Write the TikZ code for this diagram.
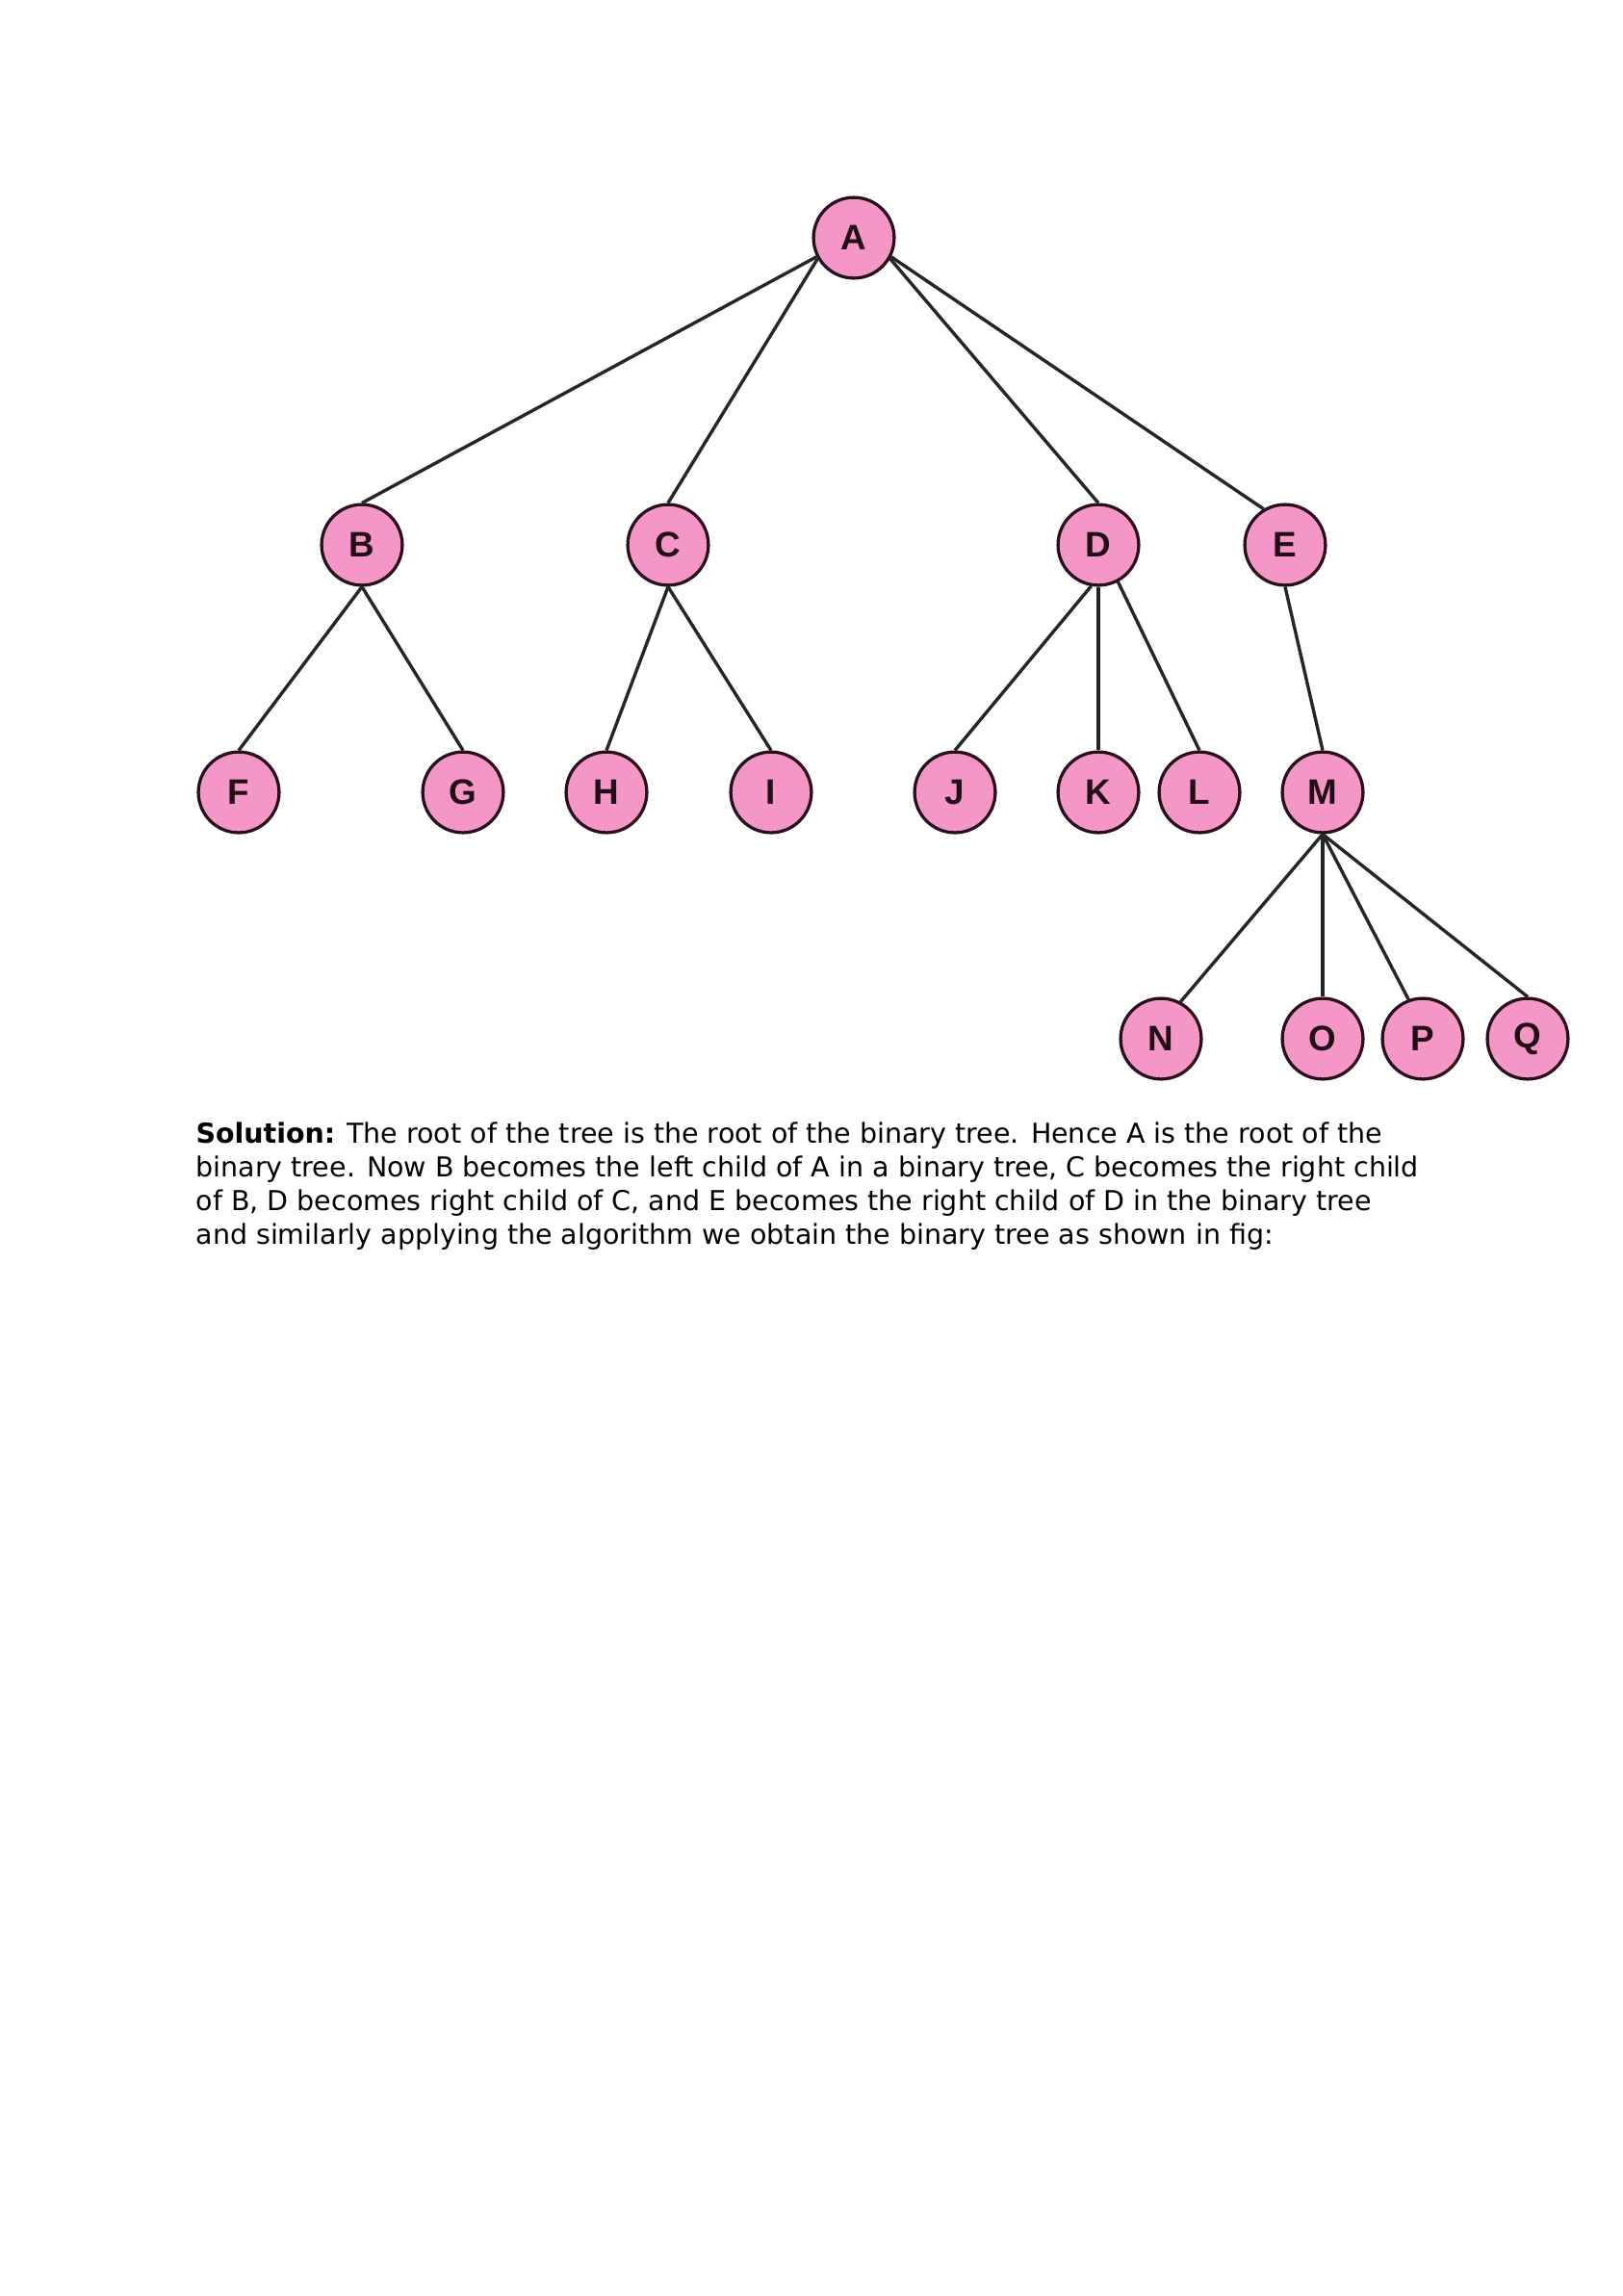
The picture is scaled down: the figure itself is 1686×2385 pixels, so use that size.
\documentclass[tikz,border=0pt]{standalone}
\usepackage{fontspec}
\setmainfont{DejaVu Sans}
\newfontfamily\labelfont{Liberation Sans}
\definecolor{nodepink}{RGB}{245,150,200}
\definecolor{nodeedge}{RGB}{40,15,25}
\begin{document}
\begin{tikzpicture}[x=0.3531pt,y=-0.3531pt,
  tn/.style={circle,draw=nodeedge,fill=nodepink,line width=1.15pt,minimum size=29.6pt,inner sep=0pt,
    font=\labelfont\bfseries\fontsize{13}{14}\selectfont,text=nodeedge!90!black},
  edge/.style={line width=1.2pt,black!85},
  txt/.style={anchor=base west,inner sep=0pt,font=\fontsize{10.06}{12}\selectfont}]
\useasboundingbox (0,0) rectangle (1686,2385);
\fill[white] (0,0) rectangle (1686,2385);
% nodes
\node[tn] (A) at (887,247) {A};
\node[tn] (B) at (376,566) {B};
\node[tn] (C) at (694,566) {C};
\node[tn] (D) at (1141,566) {D};
\node[tn] (E) at (1335,566) {E};
\node[tn] (F) at (248,823) {F};
\node[tn] (G) at (481,823) {G};
\node[tn] (H) at (630,823) {H};
\node[tn] (I) at (801,823) {I};
\node[tn] (J) at (992,823) {J};
\node[tn] (K) at (1141,823) {K};
\node[tn] (L) at (1246,823) {L};
\node[tn] (M) at (1374,823) {M};
\node[tn] (N) at (1206,1079) {N};
\node[tn] (O) at (1374,1079) {O};
\node[tn] (P) at (1478,1079) {P};
\node[tn] (Q) at (1587,1079) {Q};
% edges
\draw[edge] (A.-153) -- (B.north);
\draw[edge] (A.-150) -- (C.north);
\draw[edge] (A.-30) -- (D.north);
\draw[edge] (A.-27) -- (E.121);
\draw[edge] (B.south) -- (F.north);
\draw[edge] (B.south) -- (G.north);
\draw[edge] (C.south) -- (H.north);
\draw[edge] (C.south) -- (I.north);
\draw[edge] (D.-100) -- (J.north);
\draw[edge] (D.south) -- (K.north);
\draw[edge] (D.-62) -- (L.north);
\draw[edge] (E.south) -- (M.north);
\draw[edge] (M.south) -- (N.62);
\draw[edge] (M.south) -- (O.north);
\draw[edge] (M.south) -- (P.110);
\draw[edge] (M.south) -- (Q.north);
% text
\node[txt] (t1) at (203,1187) {\textbf{Solution:} The root of the tree is the root of the binary tree. Hence A is the root of the};
\node[txt] (t2) at (203,1222) {binary tree. Now B becomes the left child of A in a binary tree, C becomes the right child};
\node[txt] (t3) at (203,1257) {of B, D becomes right child of C, and E becomes the right child of D in the binary tree};
\node[txt] (t4) at (203,1292) {and similarly applying the algorithm we obtain the binary tree as shown in fig:};
\end{tikzpicture}
\end{document}
